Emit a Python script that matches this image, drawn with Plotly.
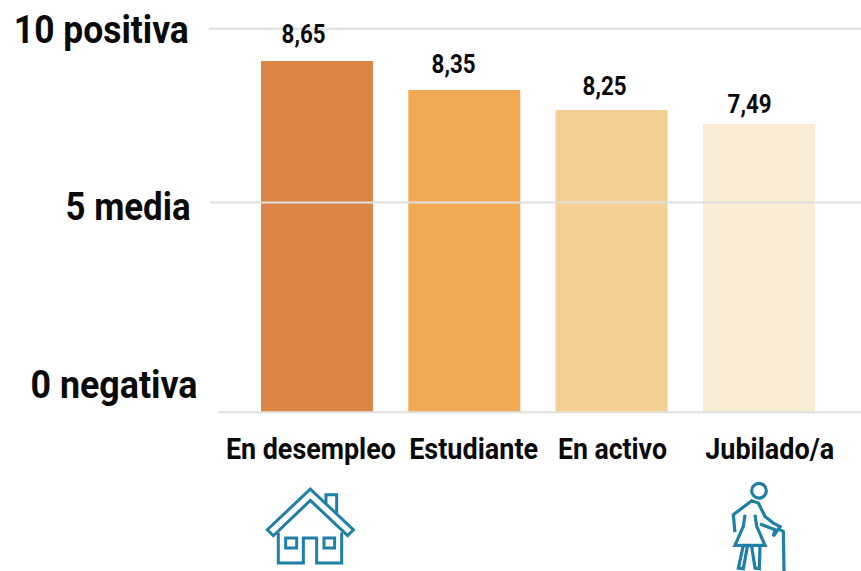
import json
import plotly.graph_objects as go

W, H = 861, 571
L, R = 209, 861
PX_PER_UNIT = 38.4
Y_BASE, Y_TOP = 412.5, 28.5
Y_MIN, Y_MAX = -0.2, 10.2
T = Y_TOP - (Y_MAX - 10) * PX_PER_UNIT
B = Y_BASE - Y_MIN * PX_PER_UNIT

categories = ["En desempleo", "Estudiante", "En activo", "Jubilado/a"]
value_labels = ["8,65", "8,35", "8,25", "7,49"]
bar_heights = [9.155, 8.40, 7.88, 7.515]
bar_colors = ["#DB8644", "#F2A955", "#F5CF93", "#F9EDD6"]
scale_labels = ["10 positiva", "5 media", "0 negativa"]
FONT = "Roboto"
ICON = "#1F7FA6"
INK = "#0A0A0A"


def px(x):
    return (x - L) / (R - L)


def py(y):
    return (B - y) / (B - T)


def path(points, close=False, ox=0, oy=0, k=1 / 3):
    s = "M " + " L ".join(f"{px(ox + a * k):.4f},{py(oy + b * k):.4f}" for a, b in points)
    return s + (" Z" if close else "")


fig = go.Figure(go.Bar(
    x=categories, y=bar_heights, width=0.76,
    marker=dict(color=bar_colors, line=dict(width=0)),
    hoverinfo="skip",
))

shapes = []
for y_val, x_start in [(10, 209), (5.47, 210), (0, 218)]:
    shapes.append(dict(type="line", xref="paper", yref="y", x0=px(x_start), x1=1,
                       y0=y_val, y1=y_val, line=dict(color="#E0E0E0", width=2), layer="above"))

house_line = dict(color=ICON, width=3)
person_line = dict(color=ICON, width=3.2)
hx, hy = 250, 480
for pts, closed in [
    ([(181, 28), (310, 150), (293, 168), (181, 62), (70, 168), (52, 150)], True),
    ([(228, 70), (228, 45), (260, 45), (260, 100)], False),
    ([(85, 158), (85, 250), (160, 250), (160, 175), (200, 175), (200, 250), (275, 250), (275, 158)], False),
    ([(107, 175), (140, 175), (140, 205), (107, 205)], True),
    ([(222, 175), (254, 175), (254, 205), (222, 205)], True),
]:
    shapes.append(dict(type="path", xref="paper", yref="paper", path=path(pts, closed, hx, hy), line=house_line))

ox, oy = 710, 475
for pts in [
    [(75, 172), (70, 120), (125, 78), (145, 85), (165, 125), (190, 145), (215, 158)],
    [(150, 148), (195, 165), (190, 185)],
    [(105, 120), (100, 155), (75, 212), (165, 212), (140, 155), (135, 120)],
    [(100, 212), (85, 280), (100, 282), (112, 215)],
    [(125, 215), (135, 280), (148, 282), (150, 212)],
    [(190, 185), (205, 163), (220, 170), (222, 290)],
]:
    shapes.append(dict(type="path", xref="paper", yref="paper", path=path(pts, False, ox, oy), line=person_line))
shapes.append(dict(type="circle", xref="paper", yref="paper",
                   x0=px(ox + 125 / 3), x1=px(ox + 169 / 3), y0=py(oy + 70 / 3), y1=py(oy + 26 / 3),
                   line=person_line))

annotations = []
widths = {}


def add_text(text, cx, cy, size, width):
    widths[text] = width
    annotations.append(dict(text=text, xref="paper", yref="paper", x=px(cx), y=py(cy),
                            xanchor="center", yanchor="middle", showarrow=False,
                            font=dict(family=FONT, size=size, color=INK, weight=700)))


for text, cx, cy, w in zip(scale_labels, [101, 127.5, 113.5], [30, 207, 385], [175, 125, 167]):
    add_text(text, cx, cy, 39, w)
for lab, cx, cy in zip(value_labels, [303, 453, 604, 749], [34, 64, 86, 104]):
    add_text(lab, cx, cy, 25, 44)
for cat, cx, w in zip(categories, [311, 473, 612, 769], [170, 129, 109, 129]):
    add_text(cat, cx, 449, 30, w)

fig.update_layout(
    width=W, height=H, autosize=False,
    margin=dict(l=L, r=W - R, t=T, b=H - B, pad=0),
    paper_bgcolor="white", plot_bgcolor="white", showlegend=False,
    xaxis=dict(range=[-0.733, 3.693], showgrid=False, showline=False, ticks="", showticklabels=False,
               zeroline=False, fixedrange=True),
    yaxis=dict(range=[Y_MIN, Y_MAX], showgrid=False, showline=False, ticks="", showticklabels=False,
               zeroline=False, fixedrange=True),
    shapes=shapes, annotations=annotations,
)
script = """
document.body.style.margin = '0';
var widths = %s;
document.querySelectorAll('.annotation-text').forEach(function (t) {
  var w = widths[t.textContent];
  if (w) { t.setAttribute('textLength', w); t.setAttribute('lengthAdjust', 'spacingAndGlyphs'); }
});
""" % json.dumps(widths)
fig.write_html("out.html", config=dict(displayModeBar=False), post_script=script)
